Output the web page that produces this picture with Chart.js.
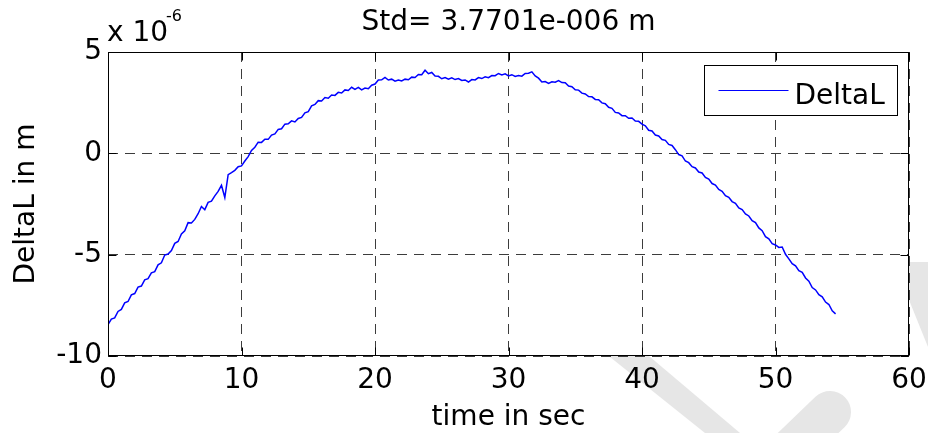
<!DOCTYPE html>
<html>
<head>
<meta charset="utf-8">
<title>DeltaL</title>
<script src="https://cdn.jsdelivr.net/npm/chart.js@4.4.1/dist/chart.umd.min.js"></script>
<style>
  html, body { margin: 0; padding: 0; background: #fff; }
  canvas { display: block; }
</style>
</head>
<body>
<canvas id="deltaChart" width="928" height="433"></canvas>
<script>
// values (units of 1e-6 m), one sample every 0.25 s
const sampleStep = 0.25;
const deltaL = [
  -8.45, -8.18, -8.12, -7.80, -7.70, -7.38, -7.31, -6.98, -6.92, -6.60,
  -6.55, -6.24, -6.18, -5.90, -5.84, -5.50, -5.40, -5.02, -4.97, -4.80,
  -4.44, -4.35, -3.98, -3.82, -3.42, -3.44, -3.26, -2.98, -2.62, -2.78,
  -2.42, -2.36, -2.10, -1.88, -1.58, -2.18, -1.05, -0.95, -0.84, -0.66,
  -0.62, -0.38, -0.16, 0.14, 0.30, 0.55, 0.54, 0.70, 0.69, 0.90,
  0.96, 1.18, 1.21, 1.44, 1.46, 1.60, 1.55, 1.72, 1.77, 2.00,
  2.06, 2.34, 2.41, 2.60, 2.58, 2.75, 2.72, 2.88, 2.86, 3.01,
  2.98, 3.13, 3.10, 3.26, 3.16, 3.25, 3.13, 3.22, 3.19, 3.36,
  3.42, 3.62, 3.63, 3.75, 3.62, 3.66, 3.56, 3.62, 3.57, 3.66,
  3.63, 3.76, 3.74, 3.89, 3.88, 4.10, 3.93, 3.99, 3.82, 3.80,
  3.68, 3.74, 3.66, 3.73, 3.64, 3.69, 3.60, 3.62, 3.52, 3.64,
  3.62, 3.74, 3.69, 3.78, 3.73, 3.84, 3.83, 3.94, 3.87, 3.92,
  3.82, 3.88, 3.79, 3.84, 3.81, 3.94, 3.95, 4.02, 3.82, 3.71,
  3.52, 3.54, 3.45, 3.53, 3.51, 3.59, 3.49, 3.48, 3.32, 3.29,
  3.14, 3.12, 2.97, 2.93, 2.80, 2.79, 2.66, 2.65, 2.49, 2.45,
  2.27, 2.22, 2.02, 1.99, 1.86, 1.86, 1.73, 1.74, 1.59, 1.58,
  1.44, 1.36, 1.14, 1.10, 0.90, 0.86, 0.68, 0.64, 0.44, 0.39,
  0.18, -0.06, -0.12, -0.38, -0.46, -0.66, -0.72, -0.92, -0.97, -1.19,
  -1.27, -1.49, -1.57, -1.78, -1.87, -2.09, -2.17, -2.38, -2.47, -2.69,
  -2.77, -2.99, -3.09, -3.32, -3.42, -3.68, -3.82, -4.11, -4.22, -4.46,
  -4.52, -4.64, -4.62, -4.98, -5.21, -5.44, -5.55, -5.79, -5.87, -6.15,
  -6.31, -6.62, -6.74, -6.97, -7.08, -7.34, -7.46, -7.77, -7.92
];
const timeSec = deltaL.map((v, i) => i * sampleStep);

const xTicks = [0, 10, 20, 30, 40, 50, 60];
const yTicks = [-10, -5, 0, 5];
const seriesName = 'DeltaL';
const plotTitle = 'Std= 3.7701e-006 m';
const xLabel = 'time in sec';
const yLabel = 'DeltaL in m';
const expBase = 'x 10';
const expPower = '-6';

const FONT = '"DejaVu Sans", sans-serif';
Chart.defaults.font.family = FONT;
Chart.defaults.color = '#000';

// faint watermark bands behind the figure, white axes on top
const backdrop = {
    id: 'backdrop',
    beforeDraw(chart) {
        const { ctx, chartArea: a } = chart;
        ctx.save();
        ctx.fillStyle = '#fff';
        ctx.fillRect(0, 0, chart.width, chart.height);
        ctx.fillStyle = '#e6e6e6';
        ctx.beginPath();
        ctx.moveTo(520, 285); ctx.lineTo(565, 285); ctx.lineTo(740, 433); ctx.lineTo(705, 433);
        ctx.closePath();
        ctx.fill();
        ctx.strokeStyle = '#e6e6e6';
        ctx.lineWidth = 42;
        ctx.lineCap = 'round';
        ctx.beginPath();
        ctx.moveTo(780, 460); ctx.lineTo(830, 412);
        ctx.stroke();
        ctx.beginPath();
        ctx.moveTo(905, 262); ctx.lineTo(928, 262); ctx.lineTo(928, 347); ctx.lineTo(905, 290);
        ctx.closePath();
        ctx.fill();
        ctx.fillStyle = '#fff';
        ctx.fillRect(a.left, a.top, a.right - a.left, a.bottom - a.top);
        ctx.restore();
    }
};

// matlab style box, inward ticks, legend, title and exponent
const frame = {
    id: 'frame',
    afterDatasetsDraw(chart) {
        const { ctx, chartArea: a, scales } = chart;
        const L = Math.round(a.left) + 0.5, R = Math.round(a.right) - 0.5;
        const T = Math.round(a.top) + 0.5, B = Math.round(a.bottom) - 0.5;
        ctx.save();
        ctx.strokeStyle = '#000';
        ctx.lineWidth = 1;
        ctx.strokeRect(L, T, R - L, B - T);
        ctx.beginPath();
        xTicks.forEach(v => {
            const px = Math.round(scales.x.getPixelForValue(v)) + 0.5;
            ctx.moveTo(px, B); ctx.lineTo(px, B - 8);
            ctx.moveTo(px, T); ctx.lineTo(px, T + 8);
        });
        yTicks.forEach(v => {
            const py = Math.round(scales.y.getPixelForValue(v)) + 0.5;
            ctx.moveTo(L, py); ctx.lineTo(L + 8, py);
            ctx.moveTo(R, py); ctx.lineTo(R - 8, py);
        });
        ctx.stroke();

        // legend box
        const ds = chart.data.datasets[0];
        const bx = Math.round(a.right) - 205 + 0.5, by = Math.round(a.top) + 13 + 0.5;
        ctx.fillStyle = '#fff';
        ctx.fillRect(bx, by, 193, 50);
        ctx.strokeRect(bx, by, 193, 50);
        ctx.strokeStyle = ds.borderColor;
        ctx.lineWidth = 1;
        ctx.beginPath();
        ctx.moveTo(bx + 14, by + 25); ctx.lineTo(bx + 84, by + 25);
        ctx.stroke();
        ctx.fillStyle = '#000';
        ctx.font = '28px ' + FONT;
        ctx.textBaseline = 'alphabetic';
        ctx.textAlign = 'left';
        ctx.fillText(ds.label, bx + 90, by + 38);

        // title and exponent
        ctx.textAlign = 'center';
        ctx.fillText(plotTitle, (a.left + a.right) / 2, 30);
        ctx.textAlign = 'left';
        ctx.fillText(expBase, a.left - 1, 41);
        ctx.font = '16px ' + FONT;
        ctx.fillText(expPower, a.left + 58, 21);
        ctx.restore();
    }
};

new Chart(document.getElementById('deltaChart'), {
    type: 'line',
    data: {
        datasets: [{
            label: seriesName,
            data: timeSec.map((t, i) => ({ x: t, y: deltaL[i] })),
            borderColor: '#0000ff',
            borderWidth: 1.5,
            pointRadius: 0,
            tension: 0,
            fill: false
        }]
    },
    options: {
        responsive: false,
        animation: false,
        layout: { padding: { top: 52, right: 19, left: 0, bottom: 0 } },
        plugins: {
            legend: { display: false },
            title: { display: false },
            tooltip: { enabled: false }
        },
        scales: {
            x: {
                type: 'linear',
                min: 0,
                max: 60,
                afterBuildTicks: s => { s.ticks = xTicks.map(v => ({ value: v })); },
                afterFit: s => { s.height = 77; s.paddingLeft = 0; s.paddingRight = 0; },
                ticks: { font: { size: 28 }, padding: 8, color: '#000', maxRotation: 0 },
                grid: { color: '#3c3c3c', lineWidth: 1, drawTicks: false },
                border: { display: false, dash: [10, 7] },
                title: {
                    display: true, text: xLabel, color: '#000',
                    font: { size: 28, lineHeight: 1 }, padding: { top: 0, bottom: 1 }
                }
            },
            y: {
                type: 'linear',
                min: -10,
                max: 5,
                afterBuildTicks: s => { s.ticks = yTicks.map(v => ({ value: v })); },
                afterFit: s => { s.width = 108; s.paddingTop = 0; s.paddingBottom = 0; },
                ticks: { font: { size: 28 }, padding: 6, color: '#000' },
                grid: { color: '#3c3c3c', lineWidth: 1, drawTicks: false },
                border: { display: false, dash: [10, 7] },
                title: {
                    display: true, text: yLabel, color: '#000',
                    font: { size: 28, lineHeight: 1.2 }, padding: { top: 10, bottom: 0 }
                }
            }
        }
    },
    plugins: [backdrop, frame]
});
</script>
</body>
</html>
